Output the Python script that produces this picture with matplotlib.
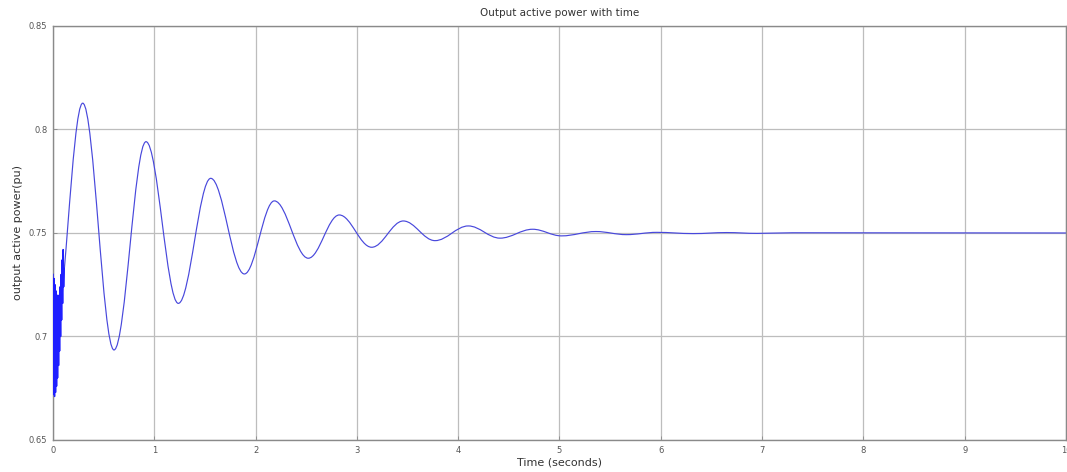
import matplotlib
matplotlib.use("Agg")
import matplotlib.pyplot as plt
from matplotlib.path import Path
from matplotlib.patches import PathPatch

# turning points of the slow swing (time in s, power in pu)
swing_t = [0.0, 0.293, 0.602, 0.918, 1.237, 1.557, 1.889, 2.185, 2.52, 2.826,
           3.146, 3.458, 3.771, 4.10, 4.413, 4.735, 5.02, 5.36, 5.66, 5.96,
           6.32, 6.65, 6.95, 7.3, 10.0]
swing_p = [0.695, 0.8127, 0.6935, 0.7941, 0.716, 0.7764, 0.7302, 0.7655, 0.7378, 0.7587,
           0.7431, 0.7558, 0.7463, 0.7534, 0.7475, 0.7518, 0.7486, 0.7507, 0.7492, 0.7503,
           0.7497, 0.7502, 0.7498, 0.7501, 0.75]

# fast ripple at switch-on (the dense blue blob near t = 0)
ripple_t = [0.000, 0.005, 0.010, 0.015, 0.020, 0.025, 0.030, 0.035, 0.040, 0.045,
            0.050, 0.055, 0.060, 0.065, 0.070, 0.075, 0.080, 0.085, 0.090, 0.095,
            0.100, 0.105, 0.110]
ripple_p = [0.730, 0.672, 0.728, 0.671, 0.725, 0.673, 0.722, 0.676, 0.720, 0.680,
            0.719, 0.686, 0.720, 0.693, 0.724, 0.700, 0.730, 0.708, 0.737, 0.716,
            0.742, 0.724, 0.733]

xticks = [0, 1, 2, 3, 4, 5, 6, 7, 8, 9, 10]
yticks = [0.65, 0.7, 0.75, 0.8, 0.85]
ytick_labels = ["0.65", "0.7", "0.75", "0.8", "0.85"]

line_color = "#4848dc"
grey = "#8a8a8a"

fig = plt.figure(figsize=(10.67, 4.72), dpi=100)
ax = fig.add_axes([0.0497, 0.0678, 0.9493, 0.8772])

# smooth swing: one cubic segment between neighbouring turning points,
# flat tangents at the peaks (control offset ~ a sine half-wave)
verts = [(swing_t[0], swing_p[0])]
codes = [Path.MOVETO]
for i in range(len(swing_t) - 1):
    t0, p0 = swing_t[i], swing_p[i]
    t1, p1 = swing_t[i + 1], swing_p[i + 1]
    d = 0.363 * (t1 - t0)
    verts += [(t0 + d, p0), (t1 - d, p1), (t1, p1)]
    codes += [Path.CURVE4] * 3
ax.add_patch(PathPatch(Path(verts, codes), fill=False, edgecolor=line_color,
                       linewidth=0.85, zorder=3))

ax.plot(ripple_t, ripple_p, color="#1f1fff", linewidth=1.0, zorder=3)

ax.set_xlim(0, 10)
ax.set_ylim(0.65, 0.85)
ax.set_xticks(xticks)
ax.set_yticks(yticks)
ax.set_yticklabels(ytick_labels)
ax.grid(True, color="#bdbdbd", linewidth=0.9)
ax.set_axisbelow(True)
ax.tick_params(direction="in", length=3, width=0.6, colors=grey,
               labelcolor="#555555", labelsize=6, pad=4)
for s in ax.spines.values():
    s.set_color(grey)
    s.set_linewidth(1.0)

ax.set_title("Output active power with time", fontsize=7.5, color="#333333", pad=7)
ax.set_xlabel("Time (seconds)", fontsize=8, color="#333333", labelpad=2)
ax.set_ylabel("output active power(pu)", fontsize=8, color="#333333", labelpad=4)

fig.savefig("out.png", dpi=100)
